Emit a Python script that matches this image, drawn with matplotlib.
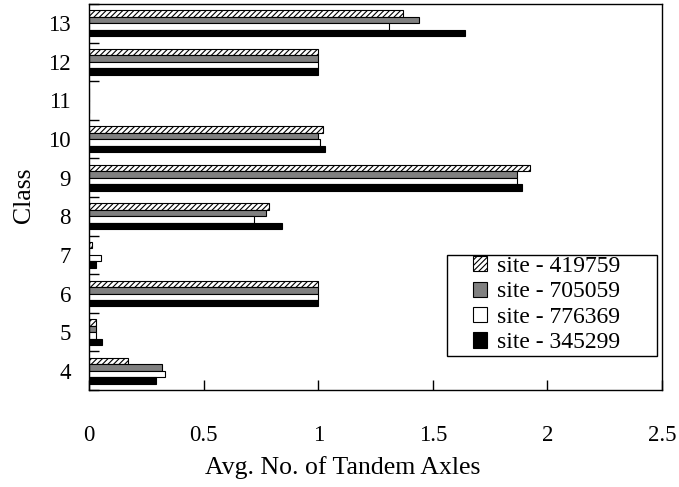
import matplotlib
matplotlib.use("Agg")
from matplotlib import pyplot as plt
from matplotlib.patches import Rectangle
import matplotlib.ticker as ticker
import numpy as np

plt.rcParams['font.family'] = ['Liberation Serif', 'DejaVu Serif']
plt.rcParams['hatch.linewidth'] = 0.8

classes = [4, 5, 6, 7, 8, 9, 10, 11, 12, 13]
series_names = ['site - 419759', 'site - 705059', 'site - 776369', 'site - 345299']
site_419759 = [0.17, 0.032, 1.0, 0.011, 0.784, 1.922, 1.020, 0.0, 1.0, 1.369]
site_705059 = [0.32, 0.032, 1.0, 0.0, 0.774, 1.867, 1.000, 0.0, 1.0, 1.439]
site_776369 = [0.331, 0.032, 1.0, 0.054, 0.721, 1.867, 1.009, 0.0, 1.0, 1.308]
site_345299 = [0.291, 0.055, 1.0, 0.032, 0.842, 1.890, 1.031, 0.0, 1.0, 1.640]

W, H = 679, 487
fig = plt.figure(figsize=(W / 100, H / 100), dpi=100)
ax = fig.add_axes([89 / W, 1 - 390 / H, 573 / W, 386 / H])

ind = np.arange(len(classes))
h = 1 / 6
styles = [dict(facecolor='white', hatch='//////'),
          dict(facecolor='#808080'),
          dict(facecolor='white'),
          dict(facecolor='black')]
offsets = [1.5 * h, 0.5 * h, -0.5 * h, -1.5 * h]
for vals, off, st, name in zip([site_419759, site_705059, site_776369, site_345299],
                               offsets, styles, series_names):
    ax.barh(ind + off, vals, h, edgecolor='black', linewidth=0.8, label=name, **st)

ax.set_xlim(0, 2.5)
ax.set_ylim(-0.5, len(classes) - 0.5)
ax.xaxis.set_major_locator(ticker.MultipleLocator(0.5))
ax.xaxis.set_major_formatter(ticker.FuncFormatter(lambda v, p: '%g' % v))
ax.set_yticks(ind)
ax.set_yticklabels([str(c) for c in classes])
ax.set_yticks(np.arange(-0.5, len(classes), 1), minor=True)
ax.tick_params(axis='x', direction='in', length=7, width=1, labelsize=16.5, pad=25)
ax.tick_params(axis='y', which='major', length=0, labelsize=16.5, pad=13)
ax.tick_params(axis='y', which='minor', direction='in', length=7, width=1)

for s in ax.spines.values():
    s.set_linewidth(1)

ax.set_xlabel('Avg. No. of Tandem Axles', fontsize=18.5)
ax.xaxis.set_label_coords(0.443, -0.172)
ax.set_ylabel('Class', fontsize=18.5)
ax.yaxis.set_label_coords(-0.094, 0.505)

# legend: Excel-style box with wide left margin
leg = ax.legend(loc='upper left', bbox_to_anchor=((474 - 89) / 573 - 0.002, (390 - 256) / 386),
                fontsize=17, frameon=False,
                handlelength=0.62, handleheight=0.62, handletextpad=0.42,
                labelspacing=0.19, borderpad=0.0, borderaxespad=0.0)
fig.add_artist(Rectangle((447 / W, 1 - 356 / H), 210 / W, 101 / H,
                         transform=fig.transFigure, fill=False,
                         edgecolor='black', linewidth=1))

plt.savefig("out.png", dpi=100)
